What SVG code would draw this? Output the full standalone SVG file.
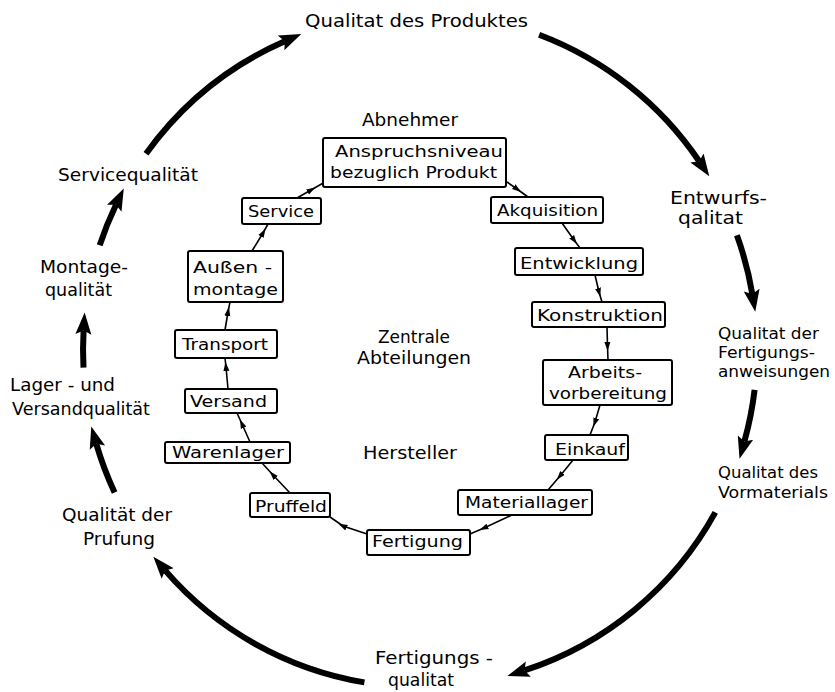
<svg xmlns="http://www.w3.org/2000/svg" width="835" height="692" viewBox="0 0 835 692">
<style>
text{font-family:"DejaVu Sans","Liberation Sans",sans-serif;fill:#000}
.o{font-size:18px}
.r{font-size:16.5px}
.b{font-size:16px}
.box{fill:#fff;stroke:#000;stroke-width:2}
.big{fill:none;stroke:#000;stroke-width:6;marker-end:url(#ah)}
.thin{fill:none;stroke:#000;stroke-width:1.6;marker-mid:url(#sm)}
</style>
<defs>
<marker id="ah" markerUnits="userSpaceOnUse" markerWidth="24" markerHeight="18" refX="4" refY="9" orient="auto"><path d="M0,1 L22,9 L0,17 L4,9 z" fill="#000"/></marker>
<marker id="sm" markerUnits="userSpaceOnUse" markerWidth="10" markerHeight="8" refX="4" refY="4" orient="auto"><path d="M0,1 L9,4 L0,7 z" fill="#000"/></marker>
</defs>
<rect width="835" height="692" fill="#fff"/>
<g id="connectors">
<path class="big" d="M146,153.8 A337,337 0 0 1 284.8,41.3"/>
<path class="big" d="M539.1,34.8 A337,337 0 0 1 699.2,161.3"/>
<path class="big" d="M736.9,235.3 A337,337 0 0 1 752.3,294"/>
<path class="big" d="M754.6,389.9 A337,337 0 0 1 744.4,441.4"/>
<path class="big" d="M715.3,512.4 A337,337 0 0 1 524.5,670.4"/>
<path class="big" d="M364.4,682.4 A337,337 0 0 1 165.1,570.4"/>
<path class="big" d="M114.6,492.4 A337,337 0 0 1 96.3,443.8"/>
<path class="big" d="M83.5,367.6 A337,337 0 0 1 83.6,330.4"/>
<path class="big" d="M99.7,245.3 A337,337 0 0 1 116,204.7"/>
<path class="thin" d="M297,198 L311,190 L325,182"/>
<path class="thin" d="M507,182 L517,189 L528,197"/>
<path class="thin" d="M562,223 L574,240 L580,248"/>
<path class="thin" d="M595,275 L599,292 L602,302"/>
<path class="thin" d="M607,327 L607.5,346 L608,360"/>
<path class="thin" d="M600,405 L595,422 L590,435"/>
<path class="thin" d="M573,460 L560,476 L548,490"/>
<path class="thin" d="M512,515 L484,528 L470,534"/>
<path class="thin" d="M367,534 L343,526 L330,517"/>
<path class="thin" d="M290,493 L273,475 L262,463"/>
<path class="thin" d="M250,442 L242,424 L237,413"/>
<path class="thin" d="M228,389 L226,367 L225,358"/>
<path class="thin" d="M225,330 L228,312 L230,302"/>
<path class="thin" d="M252,251 L263,233 L268,224"/>
</g>
<g id="labels">
<text class="o" x="305" y="27" textLength="223" lengthAdjust="spacingAndGlyphs">Qualitat des Produktes</text>
<text class="o" x="670" y="204" textLength="97" lengthAdjust="spacingAndGlyphs">Entwurfs-</text>
<text class="o" x="678" y="224" textLength="65" lengthAdjust="spacingAndGlyphs">qalitat</text>
<text class="r" x="718" y="339" textLength="101" lengthAdjust="spacingAndGlyphs">Qualitat der</text>
<text class="r" x="718" y="358" textLength="97" lengthAdjust="spacingAndGlyphs">Fertigungs-</text>
<text class="r" x="718" y="377" textLength="112" lengthAdjust="spacingAndGlyphs">anweisungen</text>
<text class="r" x="718" y="478" textLength="100" lengthAdjust="spacingAndGlyphs">Qualitat des</text>
<text class="r" x="718" y="498" textLength="110" lengthAdjust="spacingAndGlyphs">Vormaterials</text>
<text class="o" x="375" y="664" textLength="118" lengthAdjust="spacingAndGlyphs">Fertigungs -</text>
<text class="o" x="388" y="686" textLength="66" lengthAdjust="spacingAndGlyphs">qualitat</text>
<text class="o" x="62" y="521" textLength="110" lengthAdjust="spacingAndGlyphs">Qualität der</text>
<text class="o" x="83" y="545" textLength="72" lengthAdjust="spacingAndGlyphs">Prufung</text>
<text class="o" x="10" y="391" textLength="105" lengthAdjust="spacingAndGlyphs">Lager - und</text>
<text class="o" x="12" y="415" textLength="138" lengthAdjust="spacingAndGlyphs">Versandqualität</text>
<text class="o" x="40" y="273" textLength="88" lengthAdjust="spacingAndGlyphs">Montage-</text>
<text class="o" x="45" y="296" textLength="67" lengthAdjust="spacingAndGlyphs">qualität</text>
<text class="o" x="58" y="181" textLength="140" lengthAdjust="spacingAndGlyphs">Servicequalität</text>
<text class="o" x="362" y="126" textLength="96" lengthAdjust="spacingAndGlyphs">Abnehmer</text>
<text class="o" x="363" y="459" textLength="94" lengthAdjust="spacingAndGlyphs">Hersteller</text>
<text class="o" x="378" y="343" textLength="72" lengthAdjust="spacingAndGlyphs">Zentrale</text>
<text class="o" x="357" y="364" textLength="114" lengthAdjust="spacingAndGlyphs">Abteilungen</text>
</g>
<g id="n-anspruch"><rect class="box" x="323" y="138" width="183" height="49" rx="2"/><text class="b" x="335" y="157" textLength="168" lengthAdjust="spacingAndGlyphs">Anspruchsniveau</text><text class="b" x="330" y="178" textLength="167" lengthAdjust="spacingAndGlyphs">bezuglich Produkt</text></g>
<g id="n-service"><rect class="box" x="242" y="198" width="79" height="26" rx="2"/><text class="b" x="248" y="217" textLength="66" lengthAdjust="spacingAndGlyphs">Service</text></g>
<g id="n-akquisition"><rect class="box" x="491" y="197" width="112" height="26" rx="2"/><text class="b" x="497" y="216" textLength="101" lengthAdjust="spacingAndGlyphs">Akquisition</text></g>
<g id="n-entwicklung"><rect class="box" x="515" y="248" width="128" height="27" rx="2"/><text class="b" x="520" y="269" textLength="118" lengthAdjust="spacingAndGlyphs">Entwicklung</text></g>
<g id="n-konstruktion"><rect class="box" x="532" y="302" width="133" height="25" rx="2"/><text class="b" x="537" y="321" textLength="126" lengthAdjust="spacingAndGlyphs">Konstruktion</text></g>
<g id="n-arbeitsvorbereitung"><rect class="box" x="543" y="360" width="129" height="45" rx="2"/><text class="b" x="568" y="378" textLength="74" lengthAdjust="spacingAndGlyphs">Arbeits-</text><text class="b" x="549" y="399" textLength="118" lengthAdjust="spacingAndGlyphs">vorbereitung</text></g>
<g id="n-einkauf"><rect class="box" x="545" y="435" width="83" height="25" rx="2"/><text class="b" x="555" y="455" textLength="70" lengthAdjust="spacingAndGlyphs">Einkauf</text></g>
<g id="n-materiallager"><rect class="box" x="458" y="490" width="134" height="25" rx="2"/><text class="b" x="465" y="508" textLength="123" lengthAdjust="spacingAndGlyphs">Materiallager</text></g>
<g id="n-fertigung"><rect class="box" x="367" y="530" width="103" height="25" rx="2"/><text class="b" x="372" y="547" textLength="91" lengthAdjust="spacingAndGlyphs">Fertigung</text></g>
<g id="n-pruffeld"><rect class="box" x="250" y="493" width="80" height="24" rx="2"/><text class="b" x="255" y="512" textLength="72" lengthAdjust="spacingAndGlyphs">Pruffeld</text></g>
<g id="n-warenlager"><rect class="box" x="165" y="442" width="125" height="21" rx="2"/><text class="b" x="172" y="458" textLength="112" lengthAdjust="spacingAndGlyphs">Warenlager</text></g>
<g id="n-versand"><rect class="box" x="185" y="389" width="92" height="24" rx="2"/><text class="b" x="190" y="407" textLength="77" lengthAdjust="spacingAndGlyphs">Versand</text></g>
<g id="n-transport"><rect class="box" x="175" y="330" width="102" height="28" rx="2"/><text class="b" x="182" y="350" textLength="86" lengthAdjust="spacingAndGlyphs">Transport</text></g>
<g id="n-aussenmontage"><rect class="box" x="188" y="251" width="95" height="51" rx="2"/><text class="b" x="193" y="273" textLength="79" lengthAdjust="spacingAndGlyphs">Außen -</text><text class="b" x="193" y="295" textLength="85" lengthAdjust="spacingAndGlyphs">montage</text></g>
</svg>
